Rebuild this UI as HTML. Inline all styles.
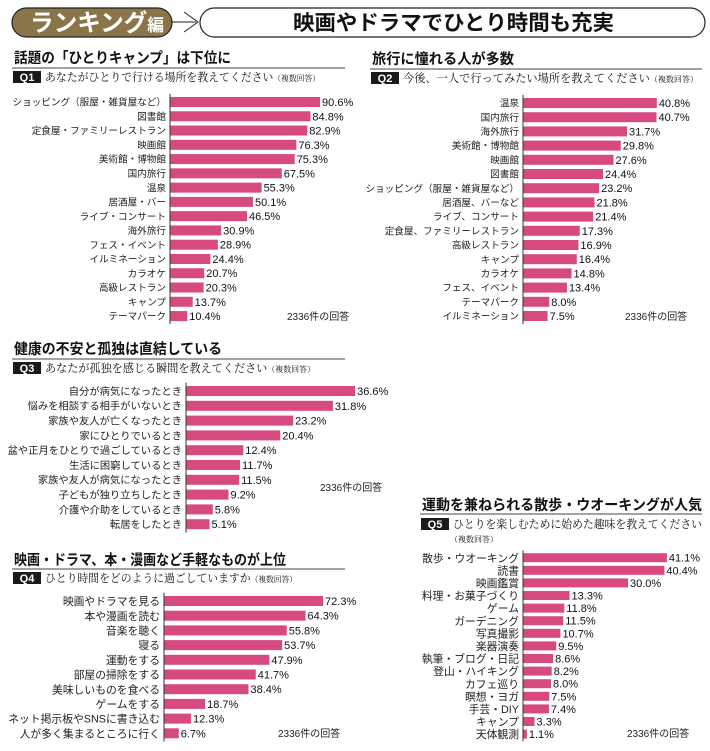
<!DOCTYPE html>
<html><head><meta charset="utf-8">
<style>
html,body{margin:0;padding:0;background:#fff;}
svg{display:block;}
.g{font-family:"Liberation Sans","Noto Sans CJK JP",sans-serif;}
.m{font-family:"Liberation Serif","Noto Serif CJK SC",serif;}
</style></head>
<body>
<svg id="chart" width="710" height="751" viewBox="0 0 710 751">
  <g>
    <rect x="12" y="8" width="160" height="29" rx="14.5" fill="#8a7548" stroke="#222" stroke-width="1.2"/>
    <text x="30" y="31" class="g" font-size="24" font-weight="bold" fill="#fff" textLength="134" lengthAdjust="spacingAndGlyphs">ランキング<tspan font-size="17">編</tspan></text>
    <line x1="172" y1="22" x2="196" y2="22" stroke="#222" stroke-width="1"/>
    <polyline points="184,12 198,22 184,32" fill="none" stroke="#222" stroke-width="1"/>
    <rect x="200" y="8" width="505" height="29" rx="14.5" fill="#fff" stroke="#222" stroke-width="1.2"/>
    <text x="293" y="30" class="g" font-size="21" font-weight="bold" fill="#111" textLength="321" lengthAdjust="spacingAndGlyphs">映画やドラマでひとり時間も充実</text>
  </g>
</svg>
<script>
const q1Labels=["ショッピング（服屋・雑貨屋など）","図書館","定食屋・ファミリーレストラン","映画館","美術館・博物館","国内旅行","温泉","居酒屋・バー","ライブ・コンサート","海外旅行","フェス・イベント","イルミネーション","カラオケ","高級レストラン","キャンプ","テーマパーク"];
const q1Values=[90.6,84.8,82.9,76.3,75.3,67.5,55.3,50.1,46.5,30.9,28.9,24.4,20.7,20.3,13.7,10.4];
const q2Labels=["温泉","国内旅行","海外旅行","美術館・博物館","映画館","図書館","ショッピング（服屋・雑貨屋など）","居酒屋、バーなど","ライブ、コンサート","定食屋、ファミリーレストラン","高級レストラン","キャンプ","カラオケ","フェス、イベント","テーマパーク","イルミネーション"];
const q2Values=[40.8,40.7,31.7,29.8,27.6,24.4,23.2,21.8,21.4,17.3,16.9,16.4,14.8,13.4,8.0,7.5];
const q3Labels=["自分が病気になったとき","悩みを相談する相手がいないとき","家族や友人が亡くなったとき","家にひとりでいるとき","盆や正月をひとりで過ごしているとき","生活に困窮しているとき","家族や友人が病気になったとき","子どもが独り立ちしたとき","介護や介助をしているとき","転居をしたとき"];
const q3Values=[36.6,31.8,23.2,20.4,12.4,11.7,11.5,9.2,5.8,5.1];
const q4Labels=["映画やドラマを見る","本や漫画を読む","音楽を聴く","寝る","運動をする","部屋の掃除をする","美味しいものを食べる","ゲームをする","ネット掲示板やSNSに書き込む","人が多く集まるところに行く"];
const q4Values=[72.3,64.3,55.8,53.7,47.9,41.7,38.4,18.7,12.3,6.7];
const q5Labels=["散歩・ウオーキング","読書","映画鑑賞","料理・お菓子づくり","ゲーム","ガーデニング","写真撮影","楽器演奏","執筆・ブログ・日記","登山・ハイキング","カフェ巡り","瞑想・ヨガ","手芸・DIY","キャンプ","天体観測"];
const q5Values=[41.1,40.4,30.0,13.3,11.8,11.5,10.7,9.5,8.6,8.2,8.0,7.5,7.4,3.3,1.1];

const NS="http://www.w3.org/2000/svg";
const svg=document.getElementById('chart');
function mk(tag,attrs,parent){const e=document.createElementNS(NS,tag);for(const k in attrs)e.setAttribute(k,attrs[k]);(parent||svg).appendChild(e);return e;}

const panels=[
 {id:"q1",q:"Q1",title:"話題の「ひとりキャンプ」は下位に",tw:217,sub:"あなたがひとりで行ける場所を教えてください",sw:275,x0:12,x1:345,ty:63,ry:68,sy:80,ax:170,scale:1.656,y0:102,step:14.27,bh:10,fs:9.6,labels:q1Labels,values:q1Values,nx:287,ny:320,extraSub:false},
 {id:"q2",q:"Q2",title:"旅行に憧れる人が多数",tw:142,sub:"今後、一人で行ってみたい場所を教えてください",sw:295,x0:370,x1:702,ty:64,ry:69,sy:81,ax:523,scale:3.28,y0:103,step:14.2,bh:10,fs:9.6,labels:q2Labels,values:q2Values,nx:625,ny:320,extraSub:false},
 {id:"q3",q:"Q3",title:"健康の不安と孤独は直結している",tw:208,sub:"あなたが孤独を感じる瞬間を教えてください",sw:270,x0:12,x1:345,ty:354,ry:359,sy:371,ax:186,scale:4.62,y0:391,step:14.8,bh:10,fs:10.3,labels:q3Labels,values:q3Values,nx:320,ny:491,extraSub:false},
 {id:"q4",q:"Q4",title:"映画・ドラマ、本・漫画など手軽なものが上位",tw:272,sub:"ひとり時間をどのように過ごしていますか",sw:252,x0:12,x1:345,ty:565,ry:569,sy:581,ax:164,scale:2.2,y0:601,step:14.7,bh:10,fs:10.8,labels:q4Labels,values:q4Values,nx:278,ny:737,extraSub:false},
 {id:"q5",q:"Q5",title:"運動を兼ねられる散歩・ウオーキングが人気",tw:280,sub:"ひとりを楽しむために始めた趣味を教えてください",sw:249,x0:420,x1:702,ty:510,ry:514,sy:527,ax:523,scale:3.5,y0:557.7,step:12.6,bh:9,fs:10.8,labels:q5Labels,values:q5Values,nx:627,ny:737,extraSub:true}
];

panels.forEach(p=>{
  const g=mk('g',{});
  
  
  const t=mk('text',{x:p.x0+2,y:p.ty,'class':'g','font-size':14.5,'font-weight':'bold',fill:'#111',textLength:p.tw,lengthAdjust:'spacingAndGlyphs'},g);
  t.textContent=p.title;
  
  
  const r=mk('line',{x1:p.x0,x2:p.x1,y1:p.ry,y2:p.ry,stroke:'#444','stroke-width':1},g);
  
  
  const b=mk('rect',{x:p.x0+1,y:p.sy-9,width:28,height:12,fill:'#1a1a1a'},g);
  
  
  const bt=mk('text',{x:p.x0+15,y:p.sy+1,'text-anchor':'middle','class':'g','font-size':11,'font-weight':'bold',fill:'#fff'},g);
  bt.textContent=p.q;
  
  
  const st=mk('text',{x:p.x0+33,y:p.sy+1,'class':'m','font-size':11.2,fill:'#111',textLength:p.sw,lengthAdjust:'spacingAndGlyphs'},g);
  st.textContent=p.sub;
  if(!p.extraSub){const ts=mk('tspan',{'font-size':8},st);ts.textContent="（複数回答）";}
  
  
  if(p.extraSub){
    const s2=mk('text',{x:p.x0+30,y:p.sy+15,'class':'m','font-size':8,fill:'#111'},g);
    s2.textContent="（複数回答）";
    
    
  }
  const n=p.values.length;
  const yOf=i=>p.y0+i*p.step;
  const xOf=v=>p.ax+v*p.scale;
  p.values.forEach((v,i)=>{
    const cy=yOf(i);
    const bar=mk('rect',{x:p.ax,y:cy-p.bh/2,width:xOf(v)-p.ax,height:p.bh,fill:'#d64a80'},g);
    
    
    const lb=mk('text',{x:p.ax-4,y:cy+p.fs*0.38,'text-anchor':'end','class':'g','font-size':p.fs,fill:'#222'},g);
    lb.textContent=p.labels[i];
    
    
    const vl=mk('text',{x:xOf(v)+2,y:cy+4,'class':'g','font-size':11,fill:'#111'},g);
    vl.textContent=v.toFixed(1)+'%';
    
    
  });
  const ax=mk('line',{x1:p.ax,x2:p.ax,y1:yOf(0)-p.step/2-1,y2:yOf(n-1)+p.step/2+1,stroke:'#333','stroke-width':1},g);
  
  
  const nt=mk('text',{x:p.nx,y:p.ny,'class':'g','font-size':10,fill:'#222'},g);
  nt.textContent="2336件の回答";
  
  
});
</script>
</body></html>
